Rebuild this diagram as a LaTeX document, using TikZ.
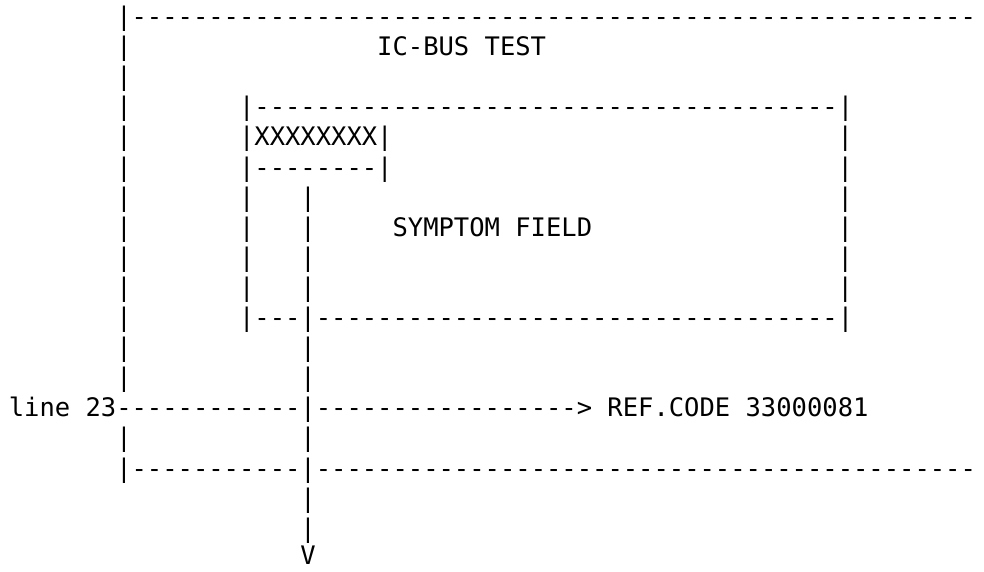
\documentclass[tikz,border=0pt]{standalone}
\usepackage{fontspec}
\setmonofont{DejaVu Sans Mono}
\ExplSyntaxOn
\cs_new:Npn \dashrun #1 { \prg_replicate:nn {#1} {-} }
\ExplSyntaxOff
\tikzset{txt/.style={font=\ttfamily\fontsize{25.5}{25.5}\selectfont, inner sep=0pt, outer sep=0pt, anchor=base west}}
% #1 name, #2 row, #3 column, #4 text
\newcommand\seg[4]{\node[txt] (#1) at ({8.825+15.35*#3}, {-(25.5+30.1*#2)}) {#4};}
\begin{document}
\begin{tikzpicture}[x=1pt,y=1pt]
\useasboundingbox (0,0) rectangle (984,-572);
% outer frame top
\seg{r0a}{0}{7}{|\dashrun{55}}
\seg{r1a}{1}{7}{|}
\seg{title}{1}{24}{IC-BUS TEST}
\seg{r2a}{2}{7}{|}
% inner box
\seg{r3a}{3}{7}{|}
\seg{r3b}{3}{15}{|\dashrun{38}|}
\seg{r4a}{4}{7}{|}
\seg{r4b}{4}{15}{|XXXXXXXX|}
\seg{r4c}{4}{54}{|}
\seg{r5a}{5}{7}{|}
\seg{r5b}{5}{15}{|\dashrun{8}|}
\seg{r5c}{5}{54}{|}
\foreach \r in {6,...,9}{
  \seg{ra\r}{\r}{7}{|}
  \seg{rb\r}{\r}{15}{|}
  \seg{rc\r}{\r}{19}{|}
  \seg{rd\r}{\r}{54}{|}
}
\seg{symptom}{7}{25}{SYMPTOM FIELD}
\seg{r10a}{10}{7}{|}
\seg{r10b}{10}{15}{|\dashrun{3}|\dashrun{34}|}
\foreach \r in {11,12,14}{
  \seg{sa\r}{\r}{7}{|}
  \seg{sb\r}{\r}{19}{|}
}
% line 23
\seg{lbl}{13}{0}{line 23}
\seg{arr}{13}{7}{\dashrun{12}|\dashrun{17}>}
\seg{ref}{13}{39}{REF.CODE 33000081}
% outer frame bottom
\seg{r15a}{15}{7}{|\dashrun{11}|\dashrun{43}}
\seg{r16}{16}{19}{|}
\seg{r17}{17}{19}{|}
\seg{v}{17.9}{19}{V}
\end{tikzpicture}
\end{document}
